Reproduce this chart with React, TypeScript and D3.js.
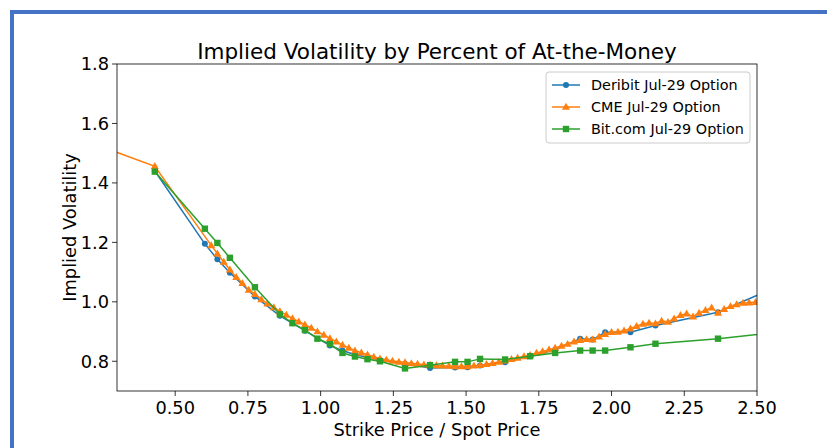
import * as React from 'react';
import * as d3 from "d3";

interface Point {
    x: number;
    y: number;
}

// strike / spot ratios and implied vols
const deribitX = [0.43, 0.602, 0.645, 0.688, 0.774, 0.860, 0.946, 1.032, 1.075, 1.118, 1.204, 1.290, 1.376, 1.462, 1.505, 1.548, 1.634, 1.720, 1.806, 1.892, 1.935, 1.978, 2.065, 2.151, 2.366, 2.581];
const deribitY = [1.44, 1.195, 1.143, 1.098, 1.018, 0.953, 0.903, 0.853, 0.836, 0.822, 0.805, 0.792, 0.777, 0.779, 0.780, 0.786, 0.797, 0.817, 0.839, 0.876, 0.873, 0.898, 0.898, 0.920, 0.965, 1.056];

const cmeX = [0.215, 0.430, 0.624, 0.645, 0.667, 0.688, 0.710, 0.731, 0.753, 0.774, 0.796, 0.817, 0.839, 0.860, 0.882, 0.903, 0.925, 0.946, 0.968, 0.989,
    1.011, 1.032, 1.054, 1.075, 1.097, 1.118, 1.140, 1.161, 1.183, 1.204, 1.226, 1.247, 1.269, 1.290, 1.312, 1.333, 1.355, 1.376, 1.398, 1.419,
    1.441, 1.462, 1.484, 1.505, 1.527, 1.548, 1.570, 1.591, 1.613, 1.634, 1.656, 1.677, 1.699, 1.720, 1.742, 1.763, 1.785, 1.806, 1.828, 1.849,
    1.871, 1.892, 1.914, 1.935, 1.957, 1.978, 2.000, 2.022, 2.043, 2.065, 2.086, 2.108, 2.129, 2.151, 2.172, 2.194, 2.215, 2.237, 2.258, 2.280,
    2.301, 2.323, 2.344, 2.366, 2.387, 2.409, 2.430, 2.452, 2.473, 2.495, 2.516];
const cmeY = [1.533, 1.456, 1.190, 1.162, 1.134, 1.108, 1.083, 1.063, 1.040, 1.026, 1.008, 0.994, 0.981, 0.968, 0.956, 0.944, 0.933, 0.923, 0.912, 0.900,
    0.889, 0.877, 0.866, 0.855, 0.845, 0.836, 0.829, 0.822, 0.815, 0.809, 0.805, 0.801, 0.798, 0.796, 0.793, 0.791, 0.789, 0.788, 0.786, 0.785,
    0.784, 0.783, 0.783, 0.783, 0.785, 0.787, 0.790, 0.794, 0.798, 0.802, 0.807, 0.811, 0.816, 0.821, 0.828, 0.833, 0.839, 0.845, 0.852, 0.858,
    0.866, 0.871, 0.874, 0.873, 0.883, 0.891, 0.898, 0.899, 0.903, 0.910, 0.918, 0.926, 0.929, 0.927, 0.936, 0.932, 0.943, 0.955, 0.960, 0.950,
    0.963, 0.972, 0.980, 0.963, 0.975, 0.985, 0.991, 0.996, 0.997, 0.999, 1.002];

const bitcomX = [0.43, 0.602, 0.645, 0.688, 0.774, 0.860, 0.903, 0.946, 0.989, 1.032, 1.075, 1.118, 1.161, 1.204, 1.290, 1.376, 1.462, 1.505, 1.548, 1.634, 1.720, 1.806, 1.892, 1.935, 1.978, 2.065, 2.151, 2.366, 2.581];
const bitcomY = [1.438, 1.246, 1.198, 1.148, 1.049, 0.958, 0.928, 0.905, 0.876, 0.858, 0.828, 0.816, 0.807, 0.800, 0.776, 0.787, 0.798, 0.798, 0.808, 0.806, 0.817, 0.828, 0.836, 0.836, 0.836, 0.847, 0.859, 0.876, 0.898];

const xTicks = [0.5, 0.75, 1.0, 1.25, 1.5, 1.75, 2.0, 2.25, 2.5];
const yTicks = [0.8, 1.0, 1.2, 1.4, 1.6, 1.8];

const zip = (xs: number[], ys: number[]): Point[] => xs.map((x, i) => ({ x, y: ys[i] }));

const series = [
    { name: "Deribit Jul-29 Option", color: "#1f77b4", marker: "circle", values: zip(deribitX, deribitY) },
    { name: "CME Jul-29 Option", color: "#ff7f0e", marker: "triangle", values: zip(cmeX, cmeY) },
    { name: "Bit.com Jul-29 Option", color: "#2ca02c", marker: "square", values: zip(bitcomX, bitcomY) },
];

const W = 827, H = 448;
const left = 117, right = 757, top = 64, bottom = 391;
const font = "'DejaVu Sans', sans-serif";

function Marker({ kind, x, y, color }: { kind: string; x: number; y: number; color: string }) {
    if (kind === "circle")
        return <circle cx={x} cy={y} r={3} fill={color} />;
    if (kind === "square")
        return <rect x={x - 3.2} y={y - 3.2} width={6.4} height={6.4} fill={color} />;
    return <path d={d3.symbol(d3.symbolTriangle, 28)() || undefined} transform={`translate(${x},${y + 0.5})`} fill={color} />;
}

export default function App() {
    const scaleX = d3.scaleLinear().domain([0.3, 2.5]).range([left, right]);
    const scaleY = d3.scaleLinear().domain([0.7, 1.8]).range([bottom, top]);

    const line = d3.line<Point>()
        .curve(d3.curveLinear)
        .x(p => scaleX(p.x))
        .y(p => scaleY(p.y));

    return (
        <svg width={W} height={H} style={{ position: "absolute", left: 0, top: 0, background: "#fff" }}>
            <defs>
                <clipPath id="plot">
                    <rect x={left} y={top} width={right - left} height={bottom - top} />
                </clipPath>
            </defs>
            <rect x={12} y={12} width={W + 20} height={H + 20} fill="none" stroke="#4472c4" strokeWidth={4} />

            <text x={(left + right) / 2} y={59} textAnchor="middle" fontFamily={font} fontSize={21.5} fill="#000">
                Implied Volatility by Percent of At-the-Money
            </text>

            <g clipPath="url(#plot)">
                {series.map(s => (
                    <g key={s.name}>
                        <path d={line(s.values) || undefined} fill="none" stroke={s.color} strokeWidth={1.5} />
                        {s.values.map((p, i) => (
                            <Marker key={i} kind={s.marker} x={scaleX(p.x)} y={scaleY(p.y)} color={s.color} />
                        ))}
                    </g>
                ))}
            </g>

            <rect x={left} y={top} width={right - left} height={bottom - top} fill="none" stroke="#000" strokeWidth={0.8} />

            {xTicks.map(t => (
                <g key={t} transform={`translate(${scaleX(t)},${bottom})`}>
                    <line y2={5} stroke="#000" strokeWidth={0.8} />
                    <text y={23} textAnchor="middle" fontFamily={font} fontSize={17.8} fill="#000">{t.toFixed(2)}</text>
                </g>
            ))}
            {yTicks.map(t => (
                <g key={t} transform={`translate(${left},${scaleY(t)})`}>
                    <line x2={-5} stroke="#000" strokeWidth={0.8} />
                    <text x={-8} dy="0.35em" textAnchor="end" fontFamily={font} fontSize={17.8} fill="#000">{t.toFixed(1)}</text>
                </g>
            ))}

            <text x={(left + right) / 2} y={436} textAnchor="middle" fontFamily={font} fontSize={17.8} fill="#000">
                Strike Price / Spot Price
            </text>
            <text transform={`translate(76,${(top + bottom) / 2}) rotate(-90)`} textAnchor="middle" fontFamily={font} fontSize={17.8} fill="#000">
                Implied Volatility
            </text>

            <g transform="translate(546,72)">
                <rect width={204} height={71} rx={3} fill="#fff" fillOpacity={0.8} stroke="#ccc" strokeWidth={1} />
                {series.map((s, i) => (
                    <g key={s.name} transform={`translate(0,${13 + i * 22})`}>
                        <line x1={6} x2={34} stroke={s.color} strokeWidth={1.5} />
                        <Marker kind={s.marker} x={20} y={0} color={s.color} />
                        <text x={45} dy="0.35em" fontFamily={font} fontSize={14.4} fill="#000">{s.name}</text>
                    </g>
                ))}
            </g>
        </svg>
    );
}
